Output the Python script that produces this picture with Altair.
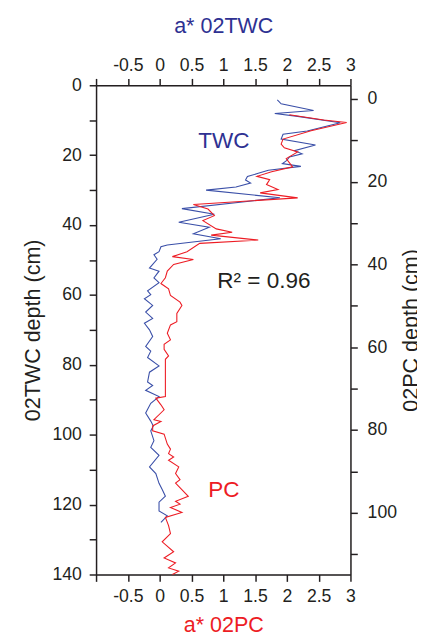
import altair as alt
import pandas as pd

# 02TWC core: depth (cm) and a*
twc_depth = [4.2, 5.3, 7.2, 8.1, 8.9, 10.7, 13.1, 14.0, 15.4, 17.1, 18.7, 19.6, 20.5, 21.5, 22.4,
             23.2, 24.3, 25.2, 26.1, 27.1, 28.0, 29.1, 30.0, 32.2, 35.3, 36.9, 39.2, 40.6, 42.5,
             43.9, 45.7, 46.2, 47.6, 48.5, 49.8, 52.3, 53.2, 55.1, 56.5, 58.8, 59.9, 61.1, 63.0,
             64.9, 66.7, 68.1, 70.0, 71.9, 74.7, 76.1, 77.9, 80.3, 82.1, 84.9, 85.9, 87.3, 89.1,
             91.0, 93.8, 96.1, 97.5, 98.9, 101.7, 103.6, 105.9, 109.2, 111.1, 113.9, 115.7,
             117.6, 119.3, 121.8, 123.2, 125.1]
twc_a = [1.85, 1.91, 2.42, 1.81, 2.17, 2.84, 2.32, 1.94, 1.91, 2.45, 2.12, 2.24, 2.04, 2.00, 1.93,
         2.22, 1.71, 1.55, 1.38, 1.35, 1.43, 1.20, 0.73, 1.89, 0.35, 0.86, 0.30, 0.78, 0.53,
         0.96, 0.12, 0.02, -0.01, -0.09, -0.04, -0.16, -0.01, -0.09, -0.01, -0.19, -0.14, -0.24,
         -0.11, -0.22, -0.11, -0.24, -0.16, -0.11, -0.22, -0.14, -0.19, -0.01, -0.16, -0.19,
         -0.11, -0.22, -0.01, -0.14, -0.22, -0.14, -0.10, -0.14, -0.09, -0.14, -0.01, -0.16,
         -0.06, -0.01, 0.04, 0.09, -0.01, -0.01, 0.12, 0.02]

# 02PC core: depth (cm) and a*
pc_depth = [3.8, 5.1, 5.7, 7.7, 9.7, 10.9, 11.8, 12.8, 14.4, 16.4, 17.6, 18.7, 19.5, 20.7, 21.9,
            22.7, 23.9, 25.5, 26.6, 28.2, 29.4, 31.4, 32.2, 32.9, 34.1, 34.9, 36.9, 38.1, 38.8,
            40.0, 41.6, 43.2, 44.6, 45.9, 47.5, 49.1, 49.9, 51.8, 53.8, 54.6, 56.6, 58.2, 59.3,
            60.5, 62.1, 62.9, 71.9, 72.3, 73.9, 75.1, 77.5, 77.9, 79.0, 80.2, 81.0, 83.4, 84.6,
            85.7, 86.5, 87.3, 88.9, 90.5, 92.0, 92.8, 96.0, 97.2, 97.9, 98.7, 99.9, 101.1,
            103.1, 105.0, 107.0, 109.4, 110.9, 112.1, 113.3, 114.1, 114.9]
pc_a = [2.04, 2.58, 2.94, 2.38, 1.94, 1.91, 1.96, 2.17, 1.99, 2.09, 1.76, 1.53, 1.73, 1.68, 1.86,
        1.58, 2.17, 0.53, 0.76, 0.86, 0.68, 0.89, 1.14, 0.81, 1.55, 0.63, 0.43, 0.20, 0.53,
        0.22, 0.12, 0.09, 0.02, 0.14, 0.17, 0.32, 0.35, 0.27, 0.27, 0.17, 0.12, 0.17, 0.07,
        0.07, 0.14, 0.09, 0.09, -0.06, 0.02, 0.07, -0.09, 0.02, -0.11, -0.11, 0.07, 0.12, 0.17,
        0.14, 0.22, 0.14, 0.30, 0.25, 0.32, 0.25, 0.45, 0.25, 0.32, 0.17, 0.35, 0.09,
        0.14, 0.17, 0.04, 0.22, 0.07, 0.25, 0.14, 0.30, 0.20]

# annotations (in a*, 02TWC depth coordinates)
ann_text = ["TWC", "R² = 0.96", "PC"]
ann_a = [1.01, 1.64, 1.01]
ann_depth = [16, 56, 116]
ann_color = ["#2E3192", "#231F20", "#ED1C24"]

x_ticks = [-1, -0.5, 0, 0.5, 1, 1.5, 2, 2.5, 3]
left_ticks = list(range(0, 141, 10))
right_ticks = list(range(0, 111, 10))

twc = pd.DataFrame({"depth": twc_depth, "a": twc_a})
pc = pd.DataFrame({"depth": pc_depth, "a": pc_a})
ann = pd.DataFrame({"text": ann_text, "a": ann_a, "depth": ann_depth, "color": ann_color})

FONT = "Liberation Sans"
INK = "#231F20"

axis_common = dict(
    domainColor=INK, domainWidth=1.5, tickColor=INK, tickWidth=1.5, tickSize=7,
    labelFont=FONT, labelFontSize=18, labelColor=INK, grid=False,
    titleFont=FONT, titleFontSize=22, titleFontWeight="normal", labelFlush=False,
)

x_label_expr = "datum.value == -1 ? '' : '' + datum.value"
y_label_expr = "datum.value % 20 == 0 ? '' + datum.value : ''"

x_top_axis = alt.Axis(orient="top", values=x_ticks, labelExpr=x_label_expr,
                      title="a* 02TWC", titleColor="#2E3192", labelPadding=4,
                      titlePadding=20, **axis_common)
y_left_axis = alt.Axis(orient="left", values=left_ticks, labelExpr=y_label_expr,
                       title="02TWC depth (cm)", titleColor=INK, labelPadding=8,
                       titlePadding=8, **axis_common)
x_top_scale = alt.Scale(domain=[-1, 3], nice=False, zero=False)
y_left_scale = alt.Scale(domain=[0, 140], reverse=True, nice=False, zero=False)

twc_line = alt.Chart(twc).mark_line(color="#3A4FA8", strokeWidth=1.1).encode(
    x=alt.X("a:Q", scale=x_top_scale, axis=x_top_axis),
    y=alt.Y("depth:Q", scale=y_left_scale, axis=y_left_axis),
    order="depth:Q",
)

ann_marks = alt.Chart(ann).mark_text(font=FONT, fontSize=23).encode(
    x=alt.X("a:Q", scale=x_top_scale, axis=x_top_axis),
    y=alt.Y("depth:Q", scale=y_left_scale, axis=y_left_axis),
    text="text:N",
    color=alt.Color("color:N", scale=None),
)

top_layer = alt.layer(twc_line, ann_marks)

pc_line = alt.Chart(pc).mark_line(color="#ED1C24", strokeWidth=1.1).encode(
    x=alt.X("a:Q", scale=alt.Scale(domain=[-1, 3], nice=False, zero=False),
            axis=alt.Axis(orient="bottom", values=x_ticks, labelExpr=x_label_expr,
                          title="a* 02PC", titleColor="#ED1C24", labelPadding=7,
                          titlePadding=9, **axis_common)),
    y=alt.Y("depth:Q", scale=alt.Scale(domain=[-3.3, 114.9], reverse=True, nice=False, zero=False),
            axis=alt.Axis(orient="right", values=right_ticks, labelExpr=y_label_expr,
                          title="02PC depth (cm)", titleColor=INK, labelPadding=10,
                          titleAngle=270, titleBaseline="top",
                          titlePadding=4, **axis_common)),
    order="depth:Q",
)

chart = alt.layer(top_layer, pc_line).resolve_scale(
    x="independent", y="independent"
).properties(
    width=260, height=500,
    autosize=alt.AutoSizeParams(type="none"),
    padding={"left": 90, "top": 72, "right": 68, "bottom": 62},
).configure_view(stroke=None).configure(background="white")

chart.save("out.html", embed_options={"renderer": "svg", "actions": False})
